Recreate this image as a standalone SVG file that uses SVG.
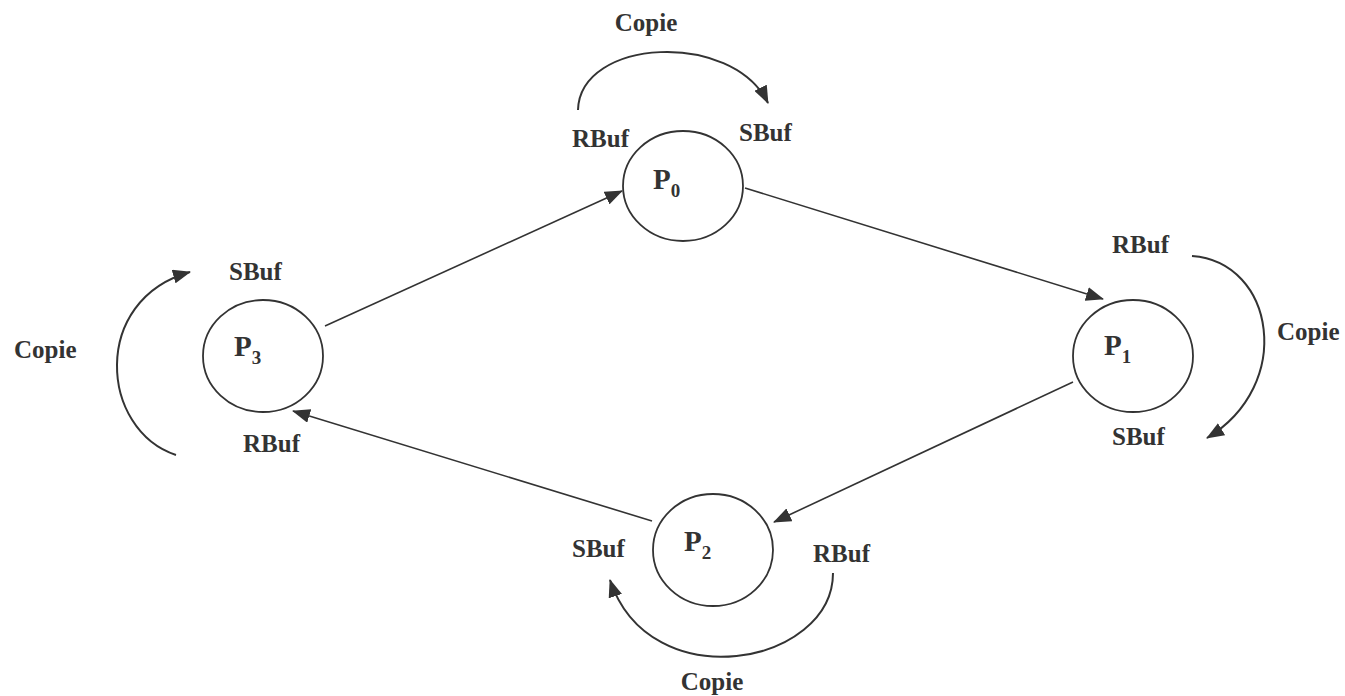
<svg xmlns="http://www.w3.org/2000/svg" width="1345" height="696" viewBox="0 0 1345 696">
  <style>
    .node { fill: none; stroke: #333; stroke-width: 1.8; }
    .lbl { font-family: "Liberation Serif", "Times New Roman", serif; font-weight: bold; fill: #333; }
    .p { font-size: 29px; }
    .sub { font-size: 19px; }
    .buf { font-size: 25px; }
    .edge { fill: none; stroke: #333; stroke-width: 1.6; }
    .loop { fill: none; stroke: #333; stroke-width: 2; }
  </style>
  <defs>
    <marker id="arrow" viewBox="0 0 18 14" refX="17" refY="7" markerWidth="18" markerHeight="14" markerUnits="userSpaceOnUse" orient="auto">
      <path d="M0,0 L18,7 L0,14 z" fill="#333"/>
    </marker>
  </defs>

  <rect width="1345" height="696" fill="#fff"/>

  <!-- processes -->
  <g id="p0">
    <ellipse class="node" cx="683" cy="186" rx="60" ry="55"/>
    <text class="lbl p" x="653" y="189">P<tspan class="sub" dy="8">0</tspan></text>
  </g>
  <g id="p1">
    <ellipse class="node" cx="1133" cy="356" rx="60" ry="56"/>
    <text class="lbl p" x="1104" y="355">P<tspan class="sub" dy="8">1</tspan></text>
  </g>
  <g id="p2">
    <ellipse class="node" cx="713" cy="550" rx="60" ry="56"/>
    <text class="lbl p" x="684" y="551">P<tspan class="sub" dy="8">2</tspan></text>
  </g>
  <g id="p3">
    <ellipse class="node" cx="263" cy="356" rx="60" ry="56"/>
    <text class="lbl p" x="234" y="356">P<tspan class="sub" dy="8">3</tspan></text>
  </g>

  <!-- ring connectors and buffer copies -->
  <g id="connectors">
    <line class="edge" x1="325" y1="326" x2="622" y2="191" marker-end="url(#arrow)"/>
    <line class="edge" x1="745" y1="188" x2="1103" y2="299" marker-end="url(#arrow)"/>
    <line class="edge" x1="1073" y1="382" x2="774" y2="522" marker-end="url(#arrow)"/>
    <line class="edge" x1="652" y1="521" x2="293" y2="411" marker-end="url(#arrow)"/>

    <path class="loop" d="M578,110 C580,38 732,30 768,103" marker-end="url(#arrow)"/>
    <path class="loop" d="M1192,256 C1275,262 1295,385 1207,438" marker-end="url(#arrow)"/>
    <path class="loop" d="M833,573 C833,665 650,700 610,580" marker-end="url(#arrow)"/>
    <path class="loop" d="M176,455 C100,430 90,300 190,272" marker-end="url(#arrow)"/>
  </g>

  <!-- buffer labels -->
  <g id="labels">
    <text class="lbl buf" x="646" y="31" text-anchor="middle">Copie</text>
    <text class="lbl buf" x="572" y="147">RBuf</text>
    <text class="lbl buf" x="739" y="141">SBuf</text>

    <text class="lbl buf" x="1112" y="253">RBuf</text>
    <text class="lbl buf" x="1277" y="340">Copie</text>
    <text class="lbl buf" x="1112" y="445">SBuf</text>

    <text class="lbl buf" x="572" y="557">SBuf</text>
    <text class="lbl buf" x="813" y="562">RBuf</text>
    <text class="lbl buf" x="712" y="690" text-anchor="middle">Copie</text>

    <text class="lbl buf" x="229" y="280">SBuf</text>
    <text class="lbl buf" x="14" y="358">Copie</text>
    <text class="lbl buf" x="243" y="452">RBuf</text>
  </g>
</svg>
